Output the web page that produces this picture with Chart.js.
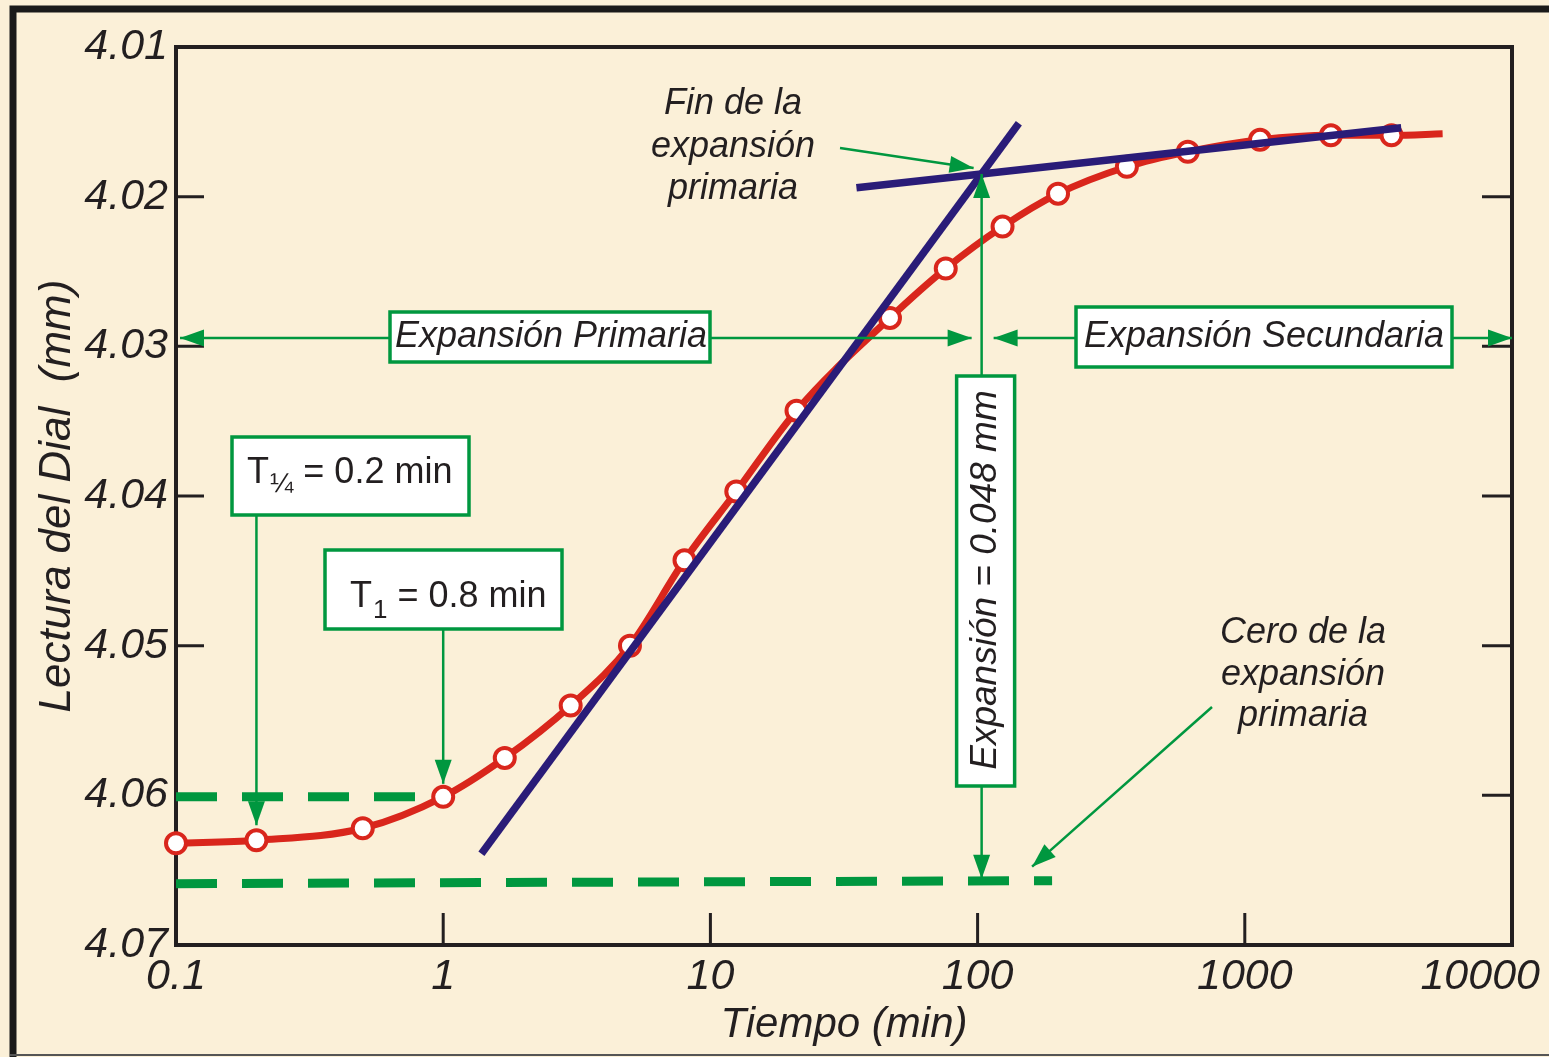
<!DOCTYPE html>
<html lang="es">
<head>
<meta charset="UTF-8">
<title>Lectura del Dial vs Tiempo</title>
<script src="https://cdn.jsdelivr.net/npm/chart.js"></script>
<style>
  html, body { margin: 0; padding: 0; background: #fbf0d8; overflow: hidden; }
  canvas { display: block; }
</style>
</head>
<body>
<canvas id="grafico" width="1549" height="1057"></canvas>
<script>
// --- datos ---
// lecturas del ensayo (el ultimo par es solo el final de la curva, sin marcador)
const tiempoMin = [0.1, 0.2, 0.5, 1, 1.7, 3, 5, 8, 12.5, 21, 47, 76, 124, 200, 362, 612, 1140, 2100, 3540, 5500];
const lecturaMm = [4.0632, 4.0630, 4.0622, 4.0601, 4.0575, 4.0540, 4.0500, 4.0443, 4.0397, 4.0343,
                   4.0281, 4.0248, 4.0220, 4.0198, 4.0180, 4.0170, 4.0162, 4.0159, 4.0159, 4.0158];

// tangentes (azul)
const tangPrimX = [1.39, 142.7];
const tangPrimY = [4.0639, 4.0151];
const tangSecX = [35.2, 3850];
const tangSecY = [4.0194, 4.0154];

// lineas de trazos (verde)
const t1LineaX = [0.1, 0.9];
const t1LineaY = [4.0601, 4.0601];
const ceroLineaX = [0.1, 190];
const ceroLineaY = [4.0659, 4.0657];

// ejes
const xTicks = [0.1, 1, 10, 100, 1000, 10000];
const xTickLabels = ['0.1', '1', '10', '100', '1000', '10000'];
const xTickMarks = [1, 10, 100, 1000];
const yTicks = [4.01, 4.02, 4.03, 4.04, 4.05, 4.06, 4.07];
const yTickLabels = ['4.01', '4.02', '4.03', '4.04', '4.05', '4.06', '4.07'];
const yTickMarks = [4.02, 4.03, 4.04, 4.05, 4.06];

const VERDE = '#00973f';
const TINTA = '#231f20';
const FONDO = '#fbf0d8';
const FAM = '"Liberation Sans", Arial, Helvetica, sans-serif';

const pares = (xs, ys) => xs.map((x, i) => ({ x: x, y: ys[i] }));

// punto de corte de las dos tangentes (en escala log)
function corte() {
  const u = v => Math.log10(v);
  const m1 = (tangPrimY[1] - tangPrimY[0]) / (u(tangPrimX[1]) - u(tangPrimX[0]));
  const m2 = (tangSecY[1] - tangSecY[0]) / (u(tangSecX[1]) - u(tangSecX[0]));
  const b1 = tangPrimY[0] - m1 * u(tangPrimX[0]);
  const b2 = tangSecY[0] - m2 * u(tangSecX[0]);
  const uc = (b2 - b1) / (m1 - m2);
  return { x: Math.pow(10, uc), y: m1 * uc + b1 };
}

function punta(ctx, x, y, ang) {
  const L = 24, W = 8.5;
  const c = Math.cos(ang), s = Math.sin(ang);
  ctx.beginPath();
  ctx.moveTo(x, y);
  ctx.lineTo(x - L * c - W * s, y - L * s + W * c);
  ctx.lineTo(x - L * c + W * s, y - L * s - W * c);
  ctx.closePath();
  ctx.fill();
}

// flecha de (x1,y1) a (x2,y2); 'doble' pone punta en los dos extremos
function flecha(ctx, x1, y1, x2, y2, doble) {
  const ang = Math.atan2(y2 - y1, x2 - x1);
  ctx.beginPath();
  ctx.moveTo(x1, y1);
  ctx.lineTo(x2, y2);
  ctx.stroke();
  punta(ctx, x2, y2, ang);
  if (doble) punta(ctx, x1, y1, ang + Math.PI);
}

function caja(ctx, x, y, w, h) {
  ctx.fillStyle = '#ffffff';
  ctx.fillRect(x, y, w, h);
  ctx.lineWidth = 3.5;
  ctx.strokeStyle = VERDE;
  ctx.strokeRect(x, y, w, h);
}

const adornos = {
  id: 'adornos',
  beforeDraw(chart) {
    const ctx = chart.ctx;
    ctx.save();
    ctx.fillStyle = FONDO;
    ctx.fillRect(0, 0, chart.width, chart.height);
    // marco exterior
    ctx.strokeStyle = '#1a1a1a';
    ctx.lineWidth = 7;
    ctx.beginPath();
    ctx.moveTo(13, chart.height);
    ctx.lineTo(13, 9);
    ctx.lineTo(chart.width, 9);
    ctx.stroke();
    ctx.lineWidth = 2;
    ctx.strokeStyle = '#555';
    ctx.beginPath();
    ctx.moveTo(10, chart.height - 2);
    ctx.lineTo(chart.width, chart.height - 2);
    ctx.stroke();
    ctx.restore();

    // la ultima etiqueta del eje x queda alineada a la derecha
    const items = chart.scales.x.getLabelItems();
    const ult = items[items.length - 1];
    if (ult && ult.options.textAlign !== 'right') {
      ult.options.textAlign = 'right';
      ult.options.translation[0] += 28;
    }
  },
  beforeDatasetsDraw(chart) {
    const ctx = chart.ctx;
    const a = chart.chartArea;
    const xs = chart.scales.x, ys = chart.scales.y;
    ctx.save();
    ctx.strokeStyle = TINTA;
    ctx.lineWidth = 4;
    ctx.strokeRect(a.left, a.top, a.right - a.left, a.bottom - a.top);
    ctx.lineWidth = 3;
    ctx.beginPath();
    yTickMarks.forEach(v => {
      const y = ys.getPixelForValue(v);
      ctx.moveTo(a.left, y); ctx.lineTo(a.left + 28, y);
      ctx.moveTo(a.right, y); ctx.lineTo(a.right - 30, y);
    });
    xTickMarks.forEach(v => {
      const x = xs.getPixelForValue(v);
      ctx.moveTo(x, a.bottom); ctx.lineTo(x, a.bottom - 32);
    });
    ctx.stroke();
    ctx.restore();
  },
  afterDraw(chart) {
    const ctx = chart.ctx;
    const a = chart.chartArea;
    const xs = chart.scales.x, ys = chart.scales.y;
    const c = corte();
    const ix = xs.getPixelForValue(c.x);
    const iy = ys.getPixelForValue(c.y);
    const yCero = ys.getPixelForValue(ceroLineaY[1]);
    const yFlechas = 338;

    ctx.save();
    ctx.strokeStyle = VERDE;
    ctx.fillStyle = VERDE;
    ctx.lineWidth = 2.5;

    // expansion primaria / secundaria
    flecha(ctx, a.left + 4, yFlechas, ix - 10, yFlechas, true);
    flecha(ctx, ix + 12, yFlechas, a.right, yFlechas, true);
    // flecha vertical de la expansion
    flecha(ctx, ix, 380, ix, iy, false);
    flecha(ctx, ix, 786, ix, yCero - 2, false);
    // fin de la expansion primaria
    flecha(ctx, 840, 148, ix - 8, iy - 6, false);
    // cero de la expansion primaria
    flecha(ctx, 1212, 707, xs.getPixelForValue(ceroLineaX[1]) - 20, yCero - 14, false);
    // T1/4 y T1
    const x025 = xs.getPixelForValue(tiempoMin[1]);
    const x1 = xs.getPixelForValue(tiempoMin[3]);
    flecha(ctx, x025, 515, x025, ys.getPixelForValue(lecturaMm[1]) - 15, false);
    flecha(ctx, x1, 629, x1, ys.getPixelForValue(lecturaMm[3]) - 13, false);

    // cajas
    caja(ctx, 390, 312, 320, 50);
    caja(ctx, 1076, 307, 376, 60);
    caja(ctx, ix - 25, 376, 58, 410);
    caja(ctx, 232, 437, 237, 78);
    caja(ctx, 325, 550, 237, 79);

    ctx.fillStyle = TINTA;
    ctx.textAlign = 'center';
    ctx.textBaseline = 'middle';
    ctx.font = 'italic 36px ' + FAM;
    ctx.fillText('Expansión Primaria', 551, 337);
    ctx.fillText('Expansión Secundaria', 1264, 337);
    ctx.fillText('Fin de la', 733, 104);
    ctx.fillText('expansión', 733, 147);
    ctx.fillText('primaria', 733, 189);
    ctx.fillText('Cero de la', 1303, 633);
    ctx.fillText('expansión', 1303, 675);
    ctx.fillText('primaria', 1303, 716);

    ctx.save();
    ctx.translate(ix + 4, 580);
    ctx.rotate(-Math.PI / 2);
    ctx.font = 'italic 37px ' + FAM;
    ctx.fillText('Expansión = 0.048 mm', 0, 0);
    ctx.restore();

    // T con subindice
    function conSub(x, base, sub, subSize, subDrop, resto) {
      ctx.textAlign = 'left';
      ctx.textBaseline = 'alphabetic';
      ctx.font = '36px ' + FAM;
      ctx.fillText('T', x, base);
      let cx = x + ctx.measureText('T').width + 1;
      ctx.font = subSize + 'px ' + FAM;
      ctx.fillText(sub, cx, base + subDrop);
      cx += ctx.measureText(sub).width;
      ctx.font = '36px ' + FAM;
      ctx.fillText(resto, cx, base);
    }
    conSub(247, 483, '¼', 28, 9, ' = 0.2 min');
    conSub(350, 607, '1', 26, 11, ' = 0.8 min');
    ctx.restore();
  }
};

const fuenteEje = { family: FAM, size: 43, style: 'italic' };

new Chart(document.getElementById('grafico'), {
  type: 'scatter',
  data: {
    datasets: [
      {
        label: 'Tangente primaria',
        data: pares(tangPrimX, tangPrimY),
        showLine: true, borderColor: '#2a1c78', borderWidth: 7.5,
        pointRadius: 0, clip: false
      },
      {
        label: 'Tangente secundaria',
        data: pares(tangSecX, tangSecY),
        showLine: true, borderColor: '#2a1c78', borderWidth: 7.5,
        pointRadius: 0, clip: false
      },
      {
        label: 'Lectura del dial',
        data: pares(tiempoMin, lecturaMm),
        showLine: true, borderColor: '#d9261c', borderWidth: 7,
        cubicInterpolationMode: 'monotone',
        pointRadius: ctx => ctx.dataIndex < tiempoMin.length - 1 ? 10 : 0,
        pointBackgroundColor: '#ffffff', pointBorderColor: '#d9261c', pointBorderWidth: 4,
        clip: false
      },
      {
        label: 'T1',
        data: pares(t1LineaX, t1LineaY),
        showLine: true, borderColor: VERDE, borderWidth: 9, borderDash: [41, 25],
        pointRadius: 0
      },
      {
        label: 'Cero',
        data: pares(ceroLineaX, ceroLineaY),
        showLine: true, borderColor: VERDE, borderWidth: 9, borderDash: [41, 25],
        pointRadius: 0
      }
    ]
  },
  options: {
    responsive: false,
    animation: false,
    events: [],
    layout: { padding: { top: 47, right: 37, left: 0, bottom: 0 } },
    plugins: { legend: { display: false }, tooltip: { enabled: false } },
    scales: {
      x: {
        type: 'logarithmic', position: 'bottom', min: 0.1, max: 10000,
        grid: { display: false, drawTicks: false },
        border: { display: false },
        afterBuildTicks: s => { s.ticks = xTicks.map(v => ({ value: v })); },
        afterFit: s => { s.height = 112; s.paddingLeft = 0; s.paddingRight = 0; },
        ticks: {
          autoSkip: false, maxRotation: 0, padding: 6, color: TINTA, font: fuenteEje,
          callback: (v, i) => xTickLabels[i]
        },
        title: { display: true, text: 'Tiempo (min)', color: TINTA, font: { family: FAM, size: 42, style: 'italic' }, padding: { top: 0, bottom: 6 } }
      },
      y: {
        type: 'linear', position: 'left', reverse: true, min: 4.01, max: 4.07,
        grid: { display: false, drawTicks: false },
        border: { display: false },
        afterBuildTicks: s => { s.ticks = yTicks.map(v => ({ value: v })); },
        afterFit: s => { s.width = 176; s.paddingTop = 0; s.paddingBottom = 0; },
        ticks: {
          autoSkip: false, padding: 8, color: TINTA, font: fuenteEje,
          callback: (v, i) => yTickLabels[i]
        },
        title: { display: true, text: 'Lectura del Dial  (mm)', color: TINTA, font: { family: FAM, size: 44, style: 'italic' }, padding: { top: 31, bottom: 0 } }
      }
    }
  },
  plugins: [adornos]
});
</script>
</body>
</html>
